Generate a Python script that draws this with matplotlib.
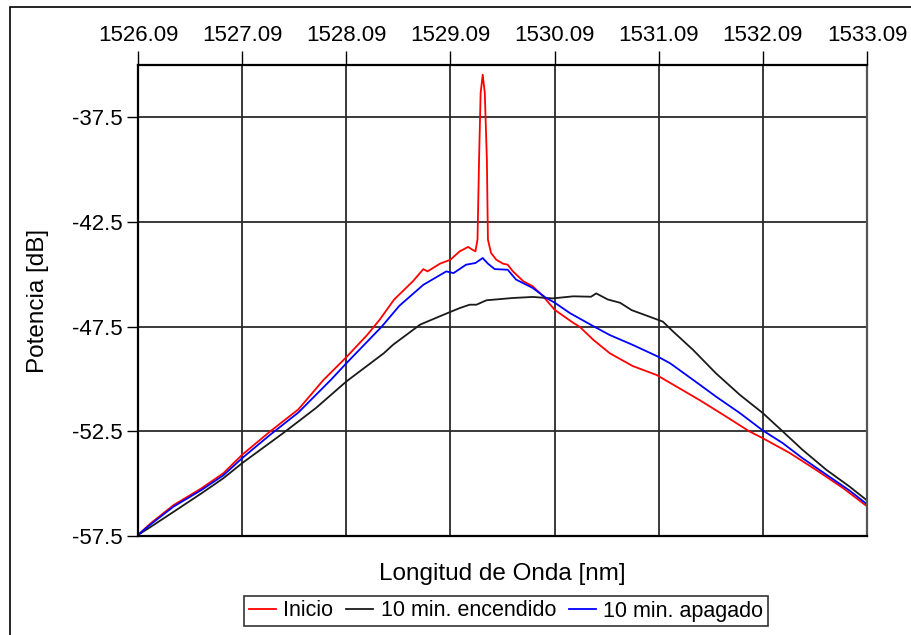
import matplotlib
matplotlib.use('Agg')
import matplotlib.pyplot as plt
from matplotlib.patches import Rectangle

plt.rcParams['font.family'] = ['Liberation Sans', 'DejaVu Sans']

# Inicio (rojo)
wl_inicio = [1526.09, 1526.21, 1526.43, 1526.70, 1526.91, 1527.09, 1527.36, 1527.63,
             1527.87, 1528.09, 1528.29, 1528.41, 1528.55, 1528.73, 1528.83, 1528.87,
             1528.99, 1529.09, 1529.18, 1529.26, 1529.30, 1529.33, 1529.35, 1529.365,
             1529.38, 1529.40, 1529.42, 1529.44, 1529.45, 1529.48, 1529.53, 1529.595,
             1529.64, 1529.69, 1529.79, 1529.88, 1529.98, 1530.09, 1530.27, 1530.33,
             1530.46, 1530.62, 1530.84, 1531.07, 1531.26, 1531.48, 1531.71, 1531.96,
             1532.09, 1532.35, 1532.60, 1532.86, 1533.09]
p_inicio = [-57.45, -56.9, -56.03, -55.22, -54.5, -53.62, -52.5, -51.45,
            -50.05, -48.96, -47.9, -47.17, -46.2, -45.33, -44.75, -44.86,
            -44.49, -44.3, -43.9, -43.69, -43.82, -43.9, -43.34, -39.52,
            -36.34, -35.46, -36.34, -39.52, -43.34, -43.98, -44.3, -44.49,
            -44.54, -44.86, -45.33, -45.57, -46.05, -46.69, -47.32, -47.5,
            -48.12, -48.77, -49.38, -49.81, -50.36, -51.0, -51.71, -52.5,
            -52.83, -53.54, -54.34, -55.21, -56.08]

# 10 min. encendido (negro)
wl_encendido = [1526.09, 1526.21, 1526.43, 1526.70, 1526.91, 1527.09, 1527.485, 1527.80,
                1528.09, 1528.45, 1528.54, 1528.80, 1528.99, 1529.18, 1529.275, 1529.34,
                1529.435, 1529.69, 1529.88, 1530.07, 1530.27, 1530.44, 1530.49, 1530.60,
                1530.72, 1530.83, 1531.00, 1531.13, 1531.23, 1531.42, 1531.64, 1531.87,
                1532.09, 1532.28, 1532.47, 1532.70, 1532.92, 1533.09]
p_encendido = [-57.45, -57.07, -56.35, -55.46, -54.74, -54.02, -52.58, -51.38,
               -50.12, -48.77, -48.36, -47.4, -47.0, -46.61, -46.45, -46.45,
               -46.24, -46.13, -46.08, -46.15, -46.05, -46.07, -45.91, -46.2,
               -46.36, -46.71, -47.02, -47.26, -47.74, -48.61, -49.73, -50.76,
               -51.63, -52.5, -53.38, -54.34, -55.13, -55.8]

# 10 min. apagado (azul)
wl_apagado = [1526.09, 1526.21, 1526.43, 1526.70, 1526.91, 1527.09, 1527.36, 1527.63,
              1527.95, 1528.09, 1528.43, 1528.60, 1528.83, 1529.05, 1529.12, 1529.24,
              1529.33, 1529.40, 1529.45, 1529.515, 1529.64, 1529.72, 1529.88, 1530.01,
              1530.09, 1530.24, 1530.46, 1530.62, 1530.84, 1531.07, 1531.20, 1531.42,
              1531.64, 1531.87, 1532.09, 1532.28, 1532.47, 1532.70, 1532.92, 1533.09]
p_apagado = [-57.45, -56.95, -56.1, -55.3, -54.6, -53.78, -52.66, -51.6,
             -50.0, -49.25, -47.5, -46.5, -45.5, -44.86, -44.94, -44.54,
             -44.46, -44.22, -44.49, -44.75, -44.78, -45.25, -45.65, -46.13,
             -46.35, -46.86, -47.47, -47.9, -48.37, -48.9, -49.25, -50.04,
             -50.84, -51.63, -52.46, -53.06, -53.78, -54.57, -55.32, -55.98]

x_ticks = [1526.09, 1527.09, 1528.09, 1529.09, 1530.09, 1531.09, 1532.09, 1533.09]
y_ticks = [-57.5, -52.5, -47.5, -42.5, -37.5]

fig = plt.figure(figsize=(9.11, 6.35), dpi=100)
ax = fig.add_axes([138 / 911, 1 - 536 / 635, 729 / 911, 471 / 635])

# marco de la figura
fig.patches.append(Rectangle((10 / 911, -0.1), 1.2, 1 - 7 / 635 + 0.1,
                             transform=fig.transFigure, fill=False,
                             edgecolor='black', linewidth=1.2))

ax.plot(wl_inicio, p_inicio, color='#ff0000', lw=1.3, label='Inicio')
ax.plot(wl_encendido, p_encendido, color='#1a1a1a', lw=1.3, label='10 min. encendido')
ax.plot(wl_apagado, p_apagado, color='#0000ff', lw=1.3, label='10 min. apagado')

ax.set_xlim(1526.09, 1533.09)
ax.set_ylim(-57.5, -35)
ax.set_xticks(x_ticks)
ax.set_xticklabels(['%.2f' % v for v in x_ticks])
ax.set_yticks(y_ticks)
ax.set_yticklabels(['%.1f' % v for v in y_ticks])
ax.xaxis.tick_top()
ax.xaxis.set_label_position('bottom')
ax.tick_params(axis='x', direction='out', length=10, width=1, labelsize=16, pad=4)
ax.tick_params(axis='y', direction='out', length=8, width=1, labelsize=16, pad=3)
ax.grid(True, color='#2a2a2a', lw=1.3)
ax.set_axisbelow(True)
for s in ax.spines.values():
    s.set_linewidth(1.6)
    s.set_color('black')
ax.spines['right'].set_color('#555555')

ax.set_xlabel('Longitud de Onda [nm]', fontsize=17.5)
ax.xaxis.set_label_coords(0.5, -0.058)
ax.set_ylabel('Potencia [dB]', fontsize=17.5)
ax.yaxis.set_label_coords(-0.122, 0.5)

leg = fig.legend(loc='center', bbox_to_anchor=(506 / 911, 1 - 611 / 635), ncol=3,
                 fontsize=15.5, frameon=True, fancybox=False, handlelength=1.25,
                 handletextpad=0.35, columnspacing=0.6, borderpad=0.2,
                 borderaxespad=0)
leg.get_frame().set_edgecolor('black')
leg.get_frame().set_linewidth(1.2)

fig.savefig('out.png', dpi=100)
